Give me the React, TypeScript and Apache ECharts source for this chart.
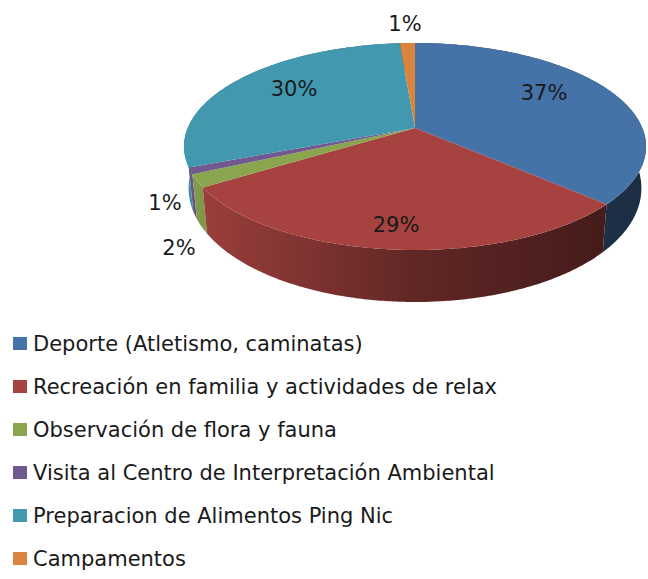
import React, { useEffect, useRef } from "react";
import * as echarts from "echarts";

const categories = [
  "Deporte (Atletismo, caminatas)",
  "Recreación en familia y actividades de relax",
  "Observación de flora y fauna",
  "Visita al Centro de Interpretación Ambiental",
  "Preparacion de Alimentos Ping Nic",
  "Campamentos",
];
const values = [36.7, 29.3, 2, 1, 29.75, 1.25];
const colors = ["#4572A7", "#A64340", "#89A54E", "#71588F", "#4198AF", "#DB843D"];
const labelAnchors: [number, number][] = [
  [544, 93],
  [396, 225],
  [179, 248],
  [165, 203],
  [294, 89],
  [405, 24],
];

const FONT = '"DejaVu Sans", sans-serif';
const CX = 415;
const CY = 128;
const A = 227.3;
const B = 100.2;
const K = 0.1787;
const total = values.reduce((s, v) => s + v, 0);

function topPoint(theta: number): [number, number] {
  const u = Math.sin(theta);
  const v = -Math.cos(theta);
  const w = 1 - K * v;
  return [CX + (A * u) / w, CY + (B * v) / w];
}
function bottomPoint(theta: number): [number, number] {
  const [x, y] = topPoint(theta);
  const v = -Math.cos(theta);
  return [CX + 0.98 * (x - CX), y + 39.5 + 12.5 * v];
}
function arc(fn: (t: number) => [number, number], a: number, b: number) {
  const n = Math.max(2, Math.ceil(Math.abs(b - a) / 0.01));
  const pts: [number, number][] = [];
  for (let i = 0; i <= n; i++) pts.push(fn(a + ((b - a) * i) / n));
  return pts;
}
function shade(hex: string, f: number) {
  const n = parseInt(hex.slice(1), 16);
  const r = Math.round(((n >> 16) & 255) * f);
  const g = Math.round(((n >> 8) & 255) * f);
  const b = Math.round((n & 255) * f);
  return `rgb(${r},${g},${b})`;
}
function wallFill(hex: string) {
  const stops = [
    [0, 0.95],
    [0.25, 0.78],
    [0.5, 0.58],
    [0.9, 0.42],
    [1, 0.4],
  ].map(([offset, f]) => ({ offset, color: shade(hex, f) }));
  return new echarts.graphic.LinearGradient(184, 0, 646, 0, stops, true);
}

function buildSeries() {
  let cum = 0;
  return categories.map((name, i) => {
    const startShare = cum;
    cum += values[i];
    return {
      type: "custom",
      name,
      coordinateSystem: "none",
      silent: true,
      itemStyle: { color: colors[i] },
      data: [[values[i]]],
      renderItem: (_p: any, api: any) => {
        const val = api.value(0) as number;
        const t0 = (startShare / total) * Math.PI * 2;
        const t1 = ((startShare + val) / total) * Math.PI * 2;
        const topArc = arc(topPoint, t0, t1);
        const botArc = arc(bottomPoint, t0, t1).reverse();
        // walls nearer the viewer are painted over those further back
        const wallDepth = -Math.cos((t0 + t1) / 2);
        return {
          type: "group",
          children: [
            {
              type: "polygon",
              z2: wallDepth,
              shape: { points: [...topArc, ...botArc] },
              style: { fill: wallFill(colors[i]) },
            },
            {
              type: "polygon",
              z2: 2,
              shape: { points: [[CX, CY], ...topArc] },
              style: { fill: colors[i] },
            },
            {
              type: "text",
              z2: 3,
              x: labelAnchors[i][0],
              y: labelAnchors[i][1],
              style: {
                text: `${Math.round((val / total) * 100)}%`,
                fill: "#1a1a1a",
                font: `21px ${FONT}`,
                textAlign: "center",
                textVerticalAlign: "middle",
              },
            },
          ],
        };
      },
    };
  });
}

export default function App() {
  const ref = useRef<HTMLDivElement>(null);
  useEffect(() => {
    document.body.style.margin = "0";
    const chart = echarts.init(ref.current!, undefined, { renderer: "svg" });
    chart.setOption({
      animation: false,
      backgroundColor: "#ffffff",
      legend: {
        orient: "vertical",
        left: 13,
        top: 333,
        padding: 0,
        icon: "rect",
        itemWidth: 14,
        itemHeight: 13,
        itemGap: 22,
        selectedMode: false,
        data: categories,
        textStyle: {
          fontFamily: FONT,
          fontSize: 21,
          color: "#1a1a1a",
          padding: [0, 0, 0, 1],
        },
      },
      series: buildSeries(),
    });
    return () => chart.dispose();
  }, []);
  return <div ref={ref} style={{ position: "absolute", left: 0, top: 0, width: 648, height: 579 }} />;
}
